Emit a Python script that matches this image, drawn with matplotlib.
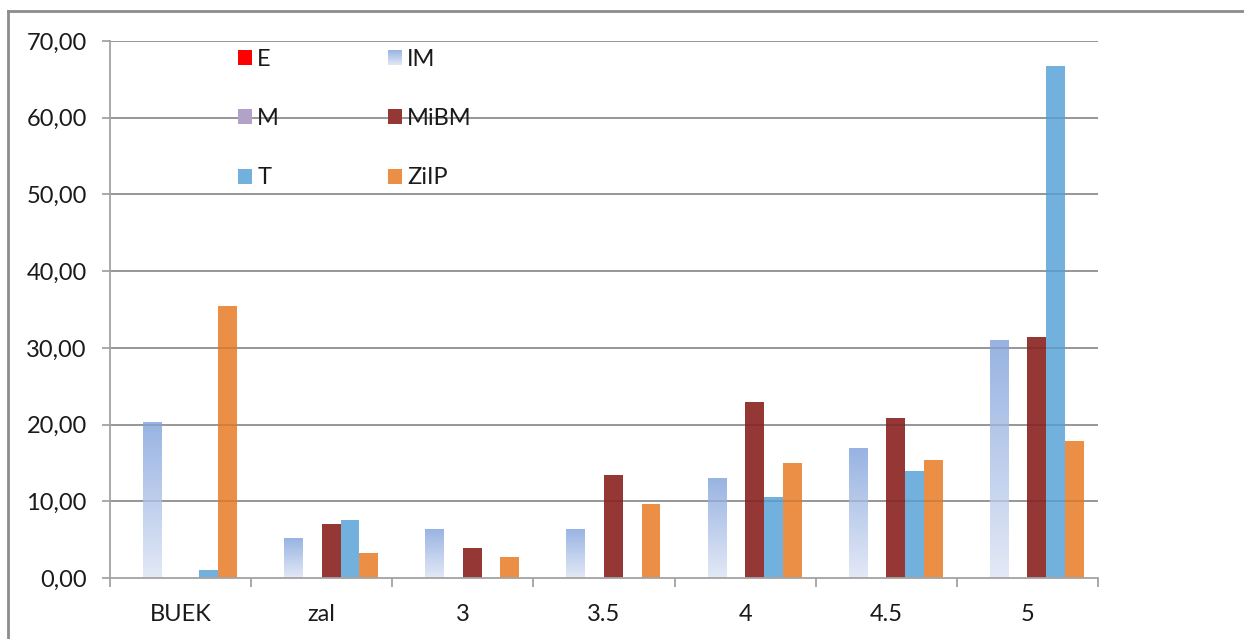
import numpy as np
import matplotlib
matplotlib.use("Agg")
import matplotlib.pyplot as plt
from matplotlib.patches import Rectangle
from matplotlib.lines import Line2D
from matplotlib.legend_handler import HandlerBase
from matplotlib.ticker import FuncFormatter, MultipleLocator
from matplotlib.colors import to_rgb

categories = ["BUEK", "zal", "3", "3.5", "4", "4.5", "5"]
series_names = ["E", "IM", "M", "MiBM", "T", "ZiIP"]

E = [0, 0, 0, 0, 0, 0, 0]
IM = [20.4, 5.2, 6.4, 6.4, 13.1, 16.9, 31.0]
M = [0, 0, 0, 0, 0, 0, 0]
MiBM = [0, 7.0, 3.9, 13.4, 22.9, 20.9, 31.4]
T = [1.1, 7.5, 0, 0, 10.6, 14.0, 66.7]
ZiIP = [35.4, 3.3, 2.7, 9.6, 15.0, 15.4, 17.9]

series_values = [E, IM, M, MiBM, T, ZiIP]
series_colors = ["#ff0000", None, "#b3a2c7", "#953735", "#72b0dd", "#eb8f46"]
IM_TOP = "#98b3e2"
IM_BOTTOM = "#e3e9f6"

FONT = "Lato"
FS = 17
TEXT_C = "#1a1a1a"
GRID_C = "#a3a3a3"

plt.rcParams["font.family"] = [FONT, "DejaVu Sans"]

W, H = 1244, 639
fig = plt.figure(figsize=(W / 100, H / 100), dpi=100)
fig.patch.set_facecolor("white")
ax = fig.add_axes([110 / W, 61 / H, 988 / W, 537 / H])

x = np.arange(len(categories))
bw = 1 / 7.5
containers = []
for i, (name, vals, col) in enumerate(zip(series_names, series_values, series_colors)):
    off = (i - 2.5) * bw
    fc = col if col is not None else "none"
    bc = ax.bar(x + off, vals, width=bw, color=fc, edgecolor="none",
                label=name, zorder=3)
    containers.append(bc)

ax.set_xlim(-0.5, len(categories) - 0.5)
ax.set_ylim(0, 70)

# vertical gradient fill for the IM bars
grad = np.linspace(0, 1, 256).reshape(-1, 1)
top = np.array(to_rgb(IM_TOP))
bot = np.array(to_rgb(IM_BOTTOM))
img = bot[None, None, :] * (1 - grad[:, :, None]) + top[None, None, :] * grad[:, :, None]
for rect in containers[1]:
    h = rect.get_height()
    if h <= 0:
        continue
    x0 = rect.get_x()
    im = ax.imshow(img, extent=(x0, x0 + rect.get_width(), 0, h), origin="lower",
                   aspect="auto", zorder=3, interpolation="bilinear")
    im.set_clip_path(rect)
ax.set_xlim(-0.5, len(categories) - 0.5)
ax.set_ylim(0, 70)

# gridlines behind and a faint copy on top, so they show through the bars
for v in range(10, 71, 10):
    ax.axhline(v, color=GRID_C, lw=1.3, zorder=1)
    ax.axhline(v, color="#000000", lw=1.3, alpha=0.12, zorder=4)

for s in ["top", "right"]:
    ax.spines[s].set_visible(False)
for s in ["left", "bottom"]:
    ax.spines[s].set_color(GRID_C)
    ax.spines[s].set_linewidth(1.3)
    ax.spines[s].set_zorder(5)

ax.yaxis.set_major_locator(MultipleLocator(10))
ax.yaxis.set_major_formatter(FuncFormatter(lambda v, p: f"{v:.2f}".replace(".", ",")))
ax.tick_params(axis="y", length=5.8, width=1.3, color=GRID_C, pad=11,
               labelsize=FS, labelcolor=TEXT_C)

ax.set_xticks(x)
ax.set_xticklabels(categories)
ax.set_xticks(np.arange(-0.5, len(categories), 1.0), minor=True)
ax.tick_params(axis="x", which="major", length=0, pad=19, labelsize=FS, labelcolor=TEXT_C)
ax.tick_params(axis="x", which="minor", length=6.5, width=1.3, color=GRID_C)


class GradientHandler(HandlerBase):
    def create_artists(self, legend, orig_handle, xdescent, ydescent,
                       width, height, fontsize, trans):
        n = 24
        arts = []
        for k in range(n):
            f = (k + 0.5) / n
            c = bot * (1 - f) + top * f
            r = Rectangle((-xdescent, -ydescent + height * k / n), width,
                          height / n * 1.05, facecolor=c, edgecolor="none",
                          transform=trans)
            arts.append(r)
        return arts


order = [0, 2, 4, 1, 3, 5]
handles = [containers[i] for i in order]
labels = [series_names[i] for i in order]
handler_map = {containers[1]: GradientHandler()}
leg = ax.legend(handles, labels, ncol=2, loc="upper left",
                bbox_to_anchor=(238 / W, 1 - 49 / H), bbox_transform=fig.transFigure,
                frameon=False, fontsize=FS, handlelength=0.6, handleheight=0.6,
                handletextpad=0.22, columnspacing=4.6, labelspacing=1.62,
                borderpad=0, borderaxespad=0, handler_map=handler_map)
for t in leg.get_texts():
    t.set_color(TEXT_C)
leg.set_zorder(6)

# outer chart border (top and left edges)
fig.add_artist(Line2D([8 / W, 1], [1 - 11 / H, 1 - 11 / H], transform=fig.transFigure,
                      color="#8c8c8c", lw=2))
fig.add_artist(Line2D([8 / W, 8 / W], [0, 1 - 11 / H], transform=fig.transFigure,
                      color="#8c8c8c", lw=2))

fig.savefig("out.png", dpi=100)
